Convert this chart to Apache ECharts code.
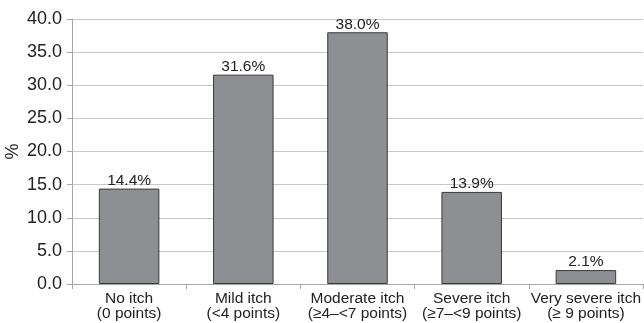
<!DOCTYPE html>
<html>
<head>
<meta charset="utf-8">
<style>
  html, body { margin: 0; padding: 0; background: #fff; }
  #chart { width: 644px; height: 323px; }
</style>
<script src="https://cdn.jsdelivr.net/npm/echarts@6/dist/echarts.min.js"></script>
</head>
<body>
<div id="chart"></div>
<script>
// Itch severity categories and share of patients (%)
const categories = [
  'No itch\n(0 points)',
  'Mild itch\n(<4 points)',
  'Moderate itch\n(\u22654\u2013<7 points)',
  'Severe itch\n(\u22657\u2013<9 points)',
  'Very severe itch\n(\u2265 9 points)'
];
const percentages = [14.4, 31.6, 38.0, 13.9, 2.1];

const chart = echarts.init(document.getElementById('chart'));
chart.setOption({
  animation: false,
  textStyle: { fontFamily: 'Liberation Sans, Arial, sans-serif' },
  grid: { left: 72, right: 1, top: 19, bottom: 39, containLabel: false, outerBoundsMode: 'none' },
  xAxis: {
    type: 'category',
    data: categories,
    axisLine: { lineStyle: { color: '#a6a6a6', width: 1 } },
    axisTick: { show: true, length: 5, lineStyle: { color: '#a6a6a6' } },
    axisLabel: { color: '#222', fontSize: 15.5, lineHeight: 15, margin: 7, interval: 0 }
  },
  yAxis: {
    type: 'value',
    min: 0, max: 40, interval: 5,
    name: '%',
    nameLocation: 'middle',
    nameGap: 50,
    nameMoveOverlap: false,
    nameRotate: 90,
    nameTextStyle: { color: '#222', fontSize: 18 },
    axisLine: { show: true, lineStyle: { color: '#a6a6a6', width: 1 } },
    axisTick: { show: true, length: 5, lineStyle: { color: '#a6a6a6' } },
    axisLabel: { color: '#222', fontSize: 18, margin: 10, formatter: v => v.toFixed(1) },
    splitLine: { lineStyle: { color: '#c8c8c8', width: 1 } }
  },
  series: [{
    type: 'bar',
    data: percentages,
    barWidth: '53%',
    itemStyle: { color: '#8e8f93', borderColor: '#3a3a3a', borderWidth: 1 },
    label: {
      show: true,
      position: 'top',
      distance: 0,
      color: '#222',
      fontSize: 15.5,
      formatter: p => p.value.toFixed(1) + '%'
    }
  }]
});
</script>
</body>
</html>
